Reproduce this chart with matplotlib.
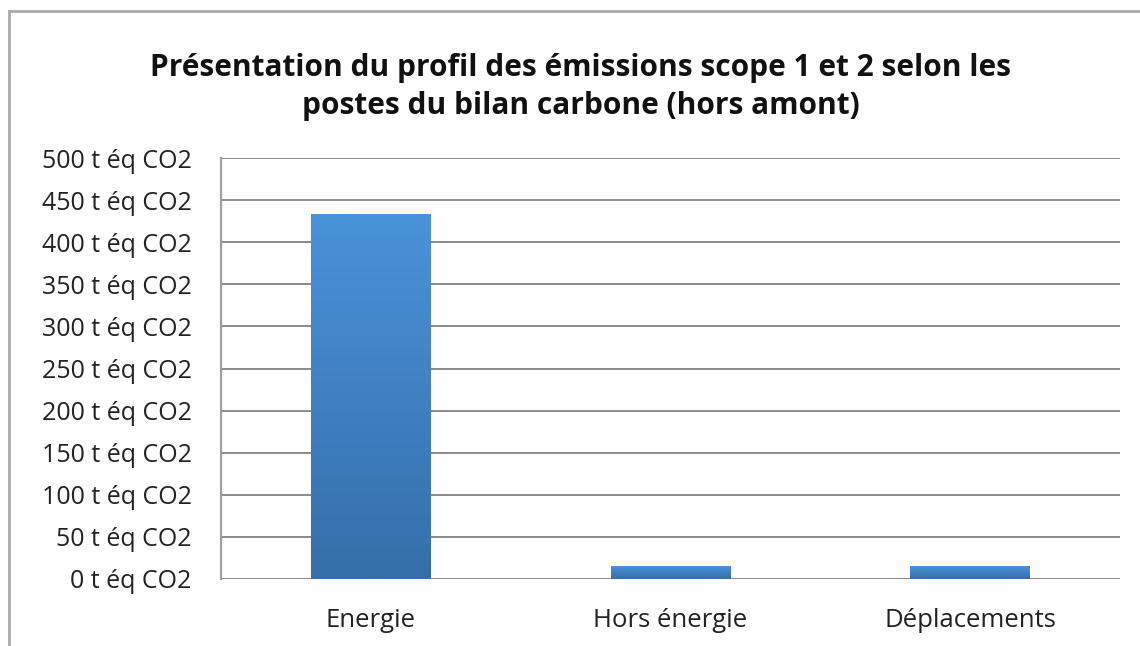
import numpy as np
import matplotlib
matplotlib.use("Agg")
import matplotlib.pyplot as plt
from matplotlib.lines import Line2D
from matplotlib.colors import LinearSegmentedColormap

categories = ["Energie", "Hors énergie", "Déplacements"]
values = [433, 15, 15]
yticks = [0, 50, 100, 150, 200, 250, 300, 350, 400, 450, 500]
ytick_labels = [f"{v} t éq CO2" for v in yticks]
title = ("Présentation du profil des émissions scope 1 et 2 selon les\n"
         "postes du bilan carbone (hors amont)")

plt.rcParams["font.family"] = ["Open Sans", "DejaVu Sans"]

W, H = 1140, 646
fig = plt.figure(figsize=(W / 100, H / 100), dpi=100)
ax = fig.add_axes([221 / W, 1 - 579 / H, 899 / W, (579 - 158) / H])

x = np.arange(len(categories))
bars = ax.bar(x, values, width=0.4, color="none", zorder=3)
ax.set_xlim(-0.5, len(categories) - 0.5)
ax.set_ylim(0, 500)

# vertical blue gradient inside each bar (darker at the base)
cmap = LinearSegmentedColormap.from_list("g", ["#356fa9", "#4a92da"])
grad = np.linspace(0, 1, 256).reshape(-1, 1)
for b in bars:
    im = ax.imshow(grad, cmap=cmap, origin="lower", aspect="auto",
                   extent=[b.get_x(), b.get_x() + b.get_width(), 0, b.get_height()],
                   zorder=3)
    im.set_clip_path(b)

ax.set_yticks(yticks)
ax.set_yticklabels(ytick_labels, fontsize=18, color="#222222")
ax.set_xticks(x)
ax.set_xticklabels(categories, fontsize=18.5, color="#222222")
ax.tick_params(axis="y", length=0, pad=21)
ax.tick_params(axis="x", length=0, pad=21)
ax.grid(axis="y", color="#8a8a8a", linewidth=1.4)
ax.set_axisbelow(True)
for sp in ("top", "right", "bottom"):
    ax.spines[sp].set_visible(False)
ax.spines["left"].set_color("#a0a0a0")
ax.spines["left"].set_linewidth(1.6)

fig.text(581 / W, 1 - 87 / H, title, ha="center", va="center",
         fontsize=21.5, fontweight="bold", color="#111111", linespacing=1.35)

# outer chart frame (left and top edges visible)
fig.add_artist(Line2D([9 / W, 9 / W], [0, 1 - 11 / H], color="#aaaaaa", lw=2))
fig.add_artist(Line2D([9 / W, 1], [1 - 11 / H, 1 - 11 / H], color="#aaaaaa", lw=2))

fig.savefig("out.png", dpi=100)
